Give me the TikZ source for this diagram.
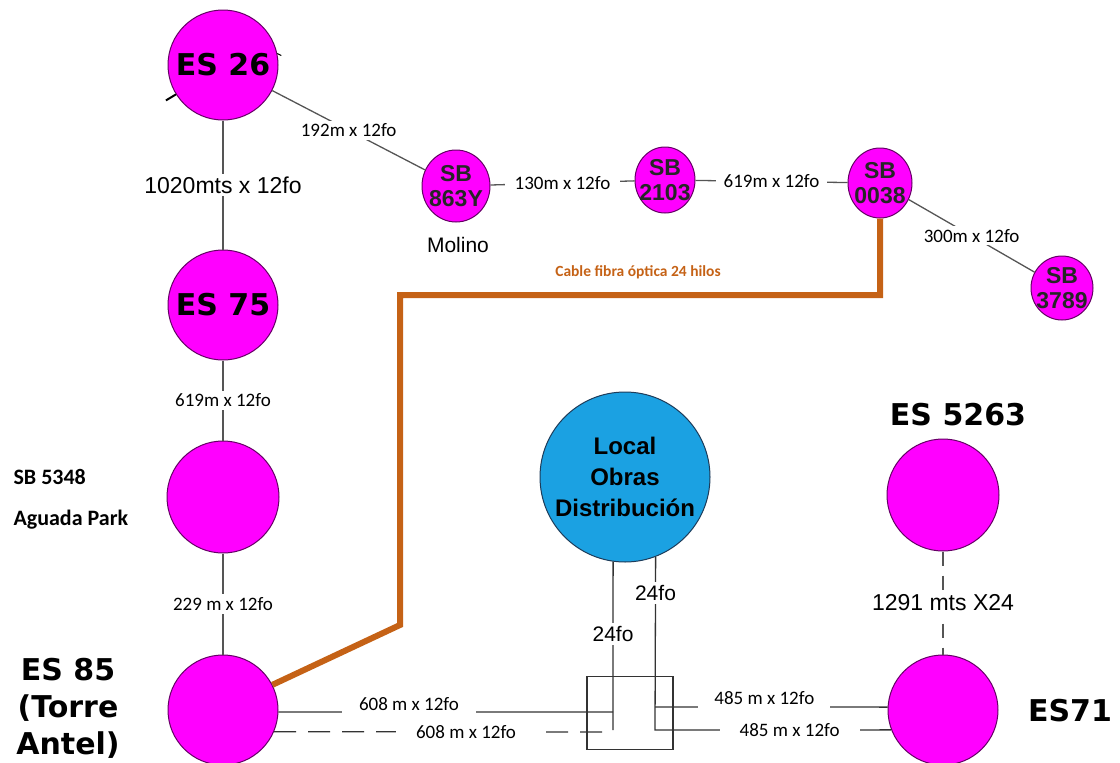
\documentclass[tikz,border=0pt]{standalone}
\usepackage{fontspec}
\setmainfont{Liberation Sans}
\newfontfamily\verdfont{DejaVu Sans}
\newfontfamily\calfont{Carlito}
\usetikzlibrary{shapes.geometric}
\definecolor{magentafill}{RGB}{255,0,255}
\definecolor{magentaline}{RGB}{100,0,100}
\definecolor{localblue}{RGB}{27,161,226}
\definecolor{localline}{RGB}{30,60,90}
\definecolor{cableorange}{RGB}{197,98,22}
\definecolor{linegray}{RGB}{85,85,85}
\begin{document}
\begin{tikzpicture}[x=1pt, y=-1pt,
  station/.style={circle, draw=magentaline, fill=magentafill, line width=1pt, inner sep=0pt, minimum size=110pt},
  subst/.style={ellipse, draw=magentaline, fill=magentafill, line width=1pt, inner sep=-8pt, align=center, text=black!85, font=\bfseries\fontsize{23}{25}\selectfont},
  bigtag/.style={font=\verdfont\bfseries\fontsize{30}{37}\selectfont, align=center},
  lbl/.style={fill=white, inner sep=3pt, font=\calfont\fontsize{19}{22}\selectfont},
  lbla/.style={fill=white, inner sep=3pt, font=\fontsize{21}{24}\selectfont},
  fiber/.style={draw=linegray, line width=1.3pt},
  boxline/.style={draw=black!80, line width=1.3pt},
  cable/.style={draw=cableorange, line width=6pt},
]
\useasboundingbox (0,0) rectangle (1120,763);
% left column
\node[station, bigtag] (es26) at (223,65) {ES 26};
\node[station, bigtag] (es75) at (223,305) {ES 75};
\node[station, minimum size=112pt] (sb5348) at (223,497) {};
\node[station] (es85) at (223,710) {};
\node[font=\calfont\bfseries\fontsize{22}{26}\selectfont, anchor=west] (sbname) at (10,477) {SB 5348};
\node[font=\calfont\bfseries\fontsize{22}{26}\selectfont, anchor=west] (aguada) at (10,520) {Aguada Park};
\node[bigtag] (es85tag) at (68,708) {ES 85\\(Torre\\Antel)};
\draw[line width=2pt] (es26.212) -- ++(-10,6);
\draw[line width=1pt] (es26.12) -- ++(4,2);
% top row
\node[subst, minimum width=68pt, minimum height=72pt] (sb863y) at (456,186) {SB\\863Y};
\node[subst, minimum width=60pt, minimum height=66pt] (sb2103) at (665,180) {SB\\2103};
\node[subst, minimum width=64pt, minimum height=70pt] (sb0038) at (880,183) {SB\\0038};
\node[subst, minimum width=62pt, minimum height=64pt] (sb3789) at (1062,288) {SB\\3789};
\node[font=\fontsize{21}{24}\selectfont] (molino) at (458,245) {Molino};
% right part
\node[circle, draw=localline, fill=localblue, line width=1pt, inner sep=0pt, minimum size=170pt, align=center, font=\bfseries\fontsize{24}{31}\selectfont] (local) at (625,477) {Local\\Obras\\Distribución};
\node[station, minimum size=112pt] (es5263) at (943,495) {};
\node[station] (es71) at (943,710) {};
\node[bigtag] (es5263tag) at (958,415) {ES 5263};
\node[bigtag] (es71tag) at (1070,711) {ES71};
\node[boxline, minimum width=86pt, minimum height=73pt, inner sep=0pt] (splice) at (630,713) {};
\coordinate (jl) at (613,730);
\coordinate (jr) at (655,730);
\coordinate (jm) at (613,712);
\coordinate (jd) at (605,732);
\coordinate (ju) at (655,707);
% fibre runs
\draw[fiber] (es26) -- node[lbla, font=\fontsize{23}{26}\selectfont] {1020mts x 12fo} (es75);
\draw[fiber] (es75) -- node[lbl] {619m x 12fo} (sb5348);
\draw[fiber] (sb5348) -- node[lbl] {229 m x 12fo} (es85);
\draw[fiber] (es26) -- node[lbl] {192m x 12fo} (sb863y);
\draw[fiber] (sb863y) -- node[lbl, inner xsep=10pt] {130m x 12fo} (sb2103);
\draw[fiber] (sb2103) -- node[lbl, inner xsep=8pt] {619m x 12fo} (sb0038);
\draw[fiber] (sb0038) -- node[lbl] {300m x 12fo} (sb3789);
\draw[fiber, dash pattern=on 14pt off 10pt] (es5263) -- node[lbla, font=\fontsize{23}{26}\selectfont] {1291 mts X24} (es71);
\draw[boxline] (local.-98) -- node[pos=.43, lbla] {24fo} (jl);
\draw[boxline] (local.-69) -- node[pos=.21, lbla] {24fo} (jr) -- node[pos=.57, lbl, inner xsep=20pt] {485 m x 12fo} (es71.201);
\draw[boxline] (ju) -- node[pos=.47, lbl, yshift=9pt, inner xsep=16pt] {485 m x 12fo} (es71.177);
\draw[boxline] (es85.-2) -- node[pos=.39, lbl, yshift=8pt, inner xsep=17pt] {608 m x 12fo} (jm);
\draw[boxline, dash pattern=on 22pt off 12pt] (es85.-23) -- node[pos=.58, lbl, inner xsep=20pt] {608 m x 12fo} (jd);
% orange cable
\coordinate (c1) at (400,625);
\coordinate (c2) at (400,295);
\coordinate (c3) at (880,295);
\draw[cable] (es85.27) -- (c1) -- (c2) -- (c3) -- (sb0038);
\node[font=\calfont\bfseries\fontsize{15.5}{18}\selectfont, text=cableorange] (cabletag) at (638,272) {Cable fibra óptica 24 hilos};
\end{tikzpicture}
\end{document}
